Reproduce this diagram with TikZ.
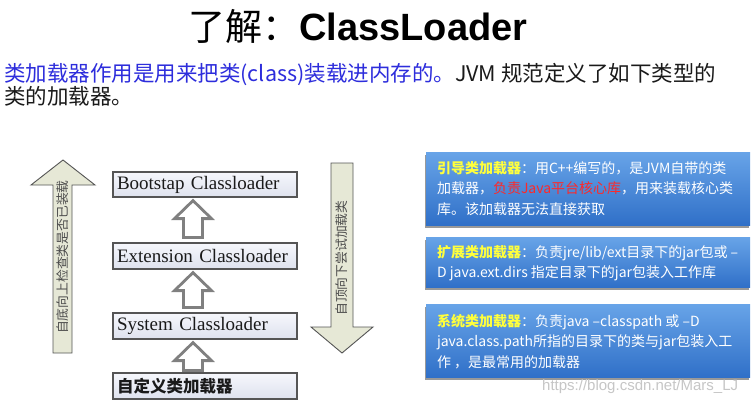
\documentclass[tikz,border=0pt]{standalone}
\usepackage{fontspec}
\setmainfont{Liberation Sans}
\newfontfamily\cjk{Noto Sans CJK SC}
\newfontfamily\serifen{Liberation Serif}
\usetikzlibrary{calc,shadows}
\definecolor{subblue}{RGB}{45,45,220}
\definecolor{textdark}{RGB}{26,26,26}
\definecolor{boxline}{RGB}{85,85,85}
\definecolor{boxtop}{RGB}{246,247,252}
\definecolor{boxbot}{RGB}{222,226,238}
\definecolor{arrowgray}{RGB}{128,128,128}
\definecolor{bigfill}{RGB}{230,232,214}
\definecolor{bigline}{RGB}{85,85,85}
\definecolor{bluetop}{RGB}{104,164,232}
\definecolor{bluebot}{RGB}{48,112,200}
\definecolor{ylw}{RGB}{255,255,60}
\definecolor{redt}{RGB}{255,40,40}
\newcommand\hollowup[3]{%
  \coordinate (ht) at ($(#1.south)+(-12,3)$);
  \coordinate (hb) at ($(#2.north)+(-12,-#3)$);
  \draw[hollow] (ht) -- ++(18.5,18) -- ++(-9,0) coordinate (hr) -- (hr |- hb)
    -- ++(-19,0) coordinate (hl) -- (hl |- hr) -- ++(-9,0) -- cycle;}
\tikzset{
  ldbox/.style={draw=boxline, line width=1.2pt, top color=boxtop, bottom color=boxbot,
    text width=176pt, align=left, inner xsep=4pt, inner ysep=0pt, minimum height=26pt,
    text=textdark, font=\serifen\fontsize{19}{20}\selectfont},
  hollow/.style={draw=arrowgray, line width=2.8pt, fill=white, line join=miter},
  bigarrow/.style={draw=bigline, line width=0.9pt, fill=bigfill, line join=miter},
  arrowtext/.style={rotate=90, inner sep=0pt, text=black!70, font=\cjk\fontsize{12.8}{13}\selectfont},
  bluebox/.style={top color=bluetop, bottom color=bluebot, minimum width=324pt, inner sep=0pt,
    drop shadow={shadow xshift=-1.5pt, shadow yshift=-2.5pt, opacity=0.4, fill=black}},
  bluetext/.style={anchor=west, align=left, inner sep=0pt, text=white,
    font=\cjk\fontsize{14}{20.5}\selectfont},
}
\begin{document}
\begin{tikzpicture}[x=1pt,y=-1pt]
\fill[white] (0,0) rectangle (756,404);
\useasboundingbox (0,0) rectangle (756,404);

% title
\node[anchor=base west, inner sep=0pt, text=black] (title) at (188,41)
  {\fontsize{37}{40}\selectfont\cjk 了解：\fontsize{38}{40}\selectfont\rmfamily\bfseries ClassLoader};

% subtitle
\node[anchor=base west, inner sep=0pt] (sub1) at (4,82)
  {\fontsize{21.5}{23}\selectfont\cjk\color{subblue}类加载器作用是用来把类(class)装载进内存的。\color{textdark}JVM 规范定义了如下类型的};
\node[anchor=base west, inner sep=0pt, text=textdark] (sub2) at (4,105)
  {\fontsize{21.5}{23}\selectfont\cjk 类的加载器。};

% big side arrows
\draw[bigarrow] (63,160) -- (95,185) -- (72,185) -- (72,353) -- (53,353) -- (53,185) -- (31,185) -- cycle;
\node[arrowtext] (uptext) at (62.5,257) {自底向上检查类是否已装载};
\draw[bigarrow] (331,163) -- (353,163) -- (353,327) -- (373,327) -- (342,353) -- (311,327) -- (331,327) -- cycle;
\node[arrowtext] (downtext) at (342,258) {自顶向下尝试加载类};

% loader boxes
\node[ldbox, minimum height=25pt] (boot) at (205,184.5) {Bootstap Classloader};
\node[ldbox] (ext) at (205,256) {Extension Classloader};
\node[ldbox] (sys) at (205,326) {System Classloader};
\node[ldbox] (cust) at (205,386) {\cjk\bfseries\fontsize{16.5}{18}\selectfont 自定义类加载器};

\hollowup{boot}{ext}{5}
\hollowup{ext}{sys}{5}
\hollowup{sys}{cust}{2}

% blue description boxes
\node[bluebox, minimum height=73pt] (b1) at (588,188.5) {};
\node[bluetext] (t1) at ($(b1.west)+(11,0)$)
  {{\color{ylw}\bfseries 引导类加载器}：用C++编写的，是JVM自带的类\\加载器，{\color{redt}负责Java平台核心库}，用来装载核心类\\库。该加载器无法直接获取};
\node[bluebox, minimum height=50pt] (b2) at (588,262) {};
\node[bluetext] (t2) at ($(b2.west)+(11,1)$)
  {{\color{ylw}\bfseries 扩展类加载器}：负责jre/lib/ext目录下的jar包或 –\\D java.ext.dirs 指定目录下的jar包装入工作库};
\node[bluebox, minimum height=73pt] (b3) at (588,340.5) {};
\node[bluetext] (t3) at ($(b3.west)+(11,1)$)
  {{\color{ylw}\bfseries 系统类加载器}：负责java –classpath 或 –D\\java.class.path所指的目录下的类与jar包装入工\\作 ，是最常用的加载器};

% watermark
\node[anchor=west, inner sep=0pt, text=gray!45, font=\fontsize{15}{15}\selectfont] (wm) at (542,387)
  {https://blog.csdn.net/Mars\_LJ};
\end{tikzpicture}
\end{document}
